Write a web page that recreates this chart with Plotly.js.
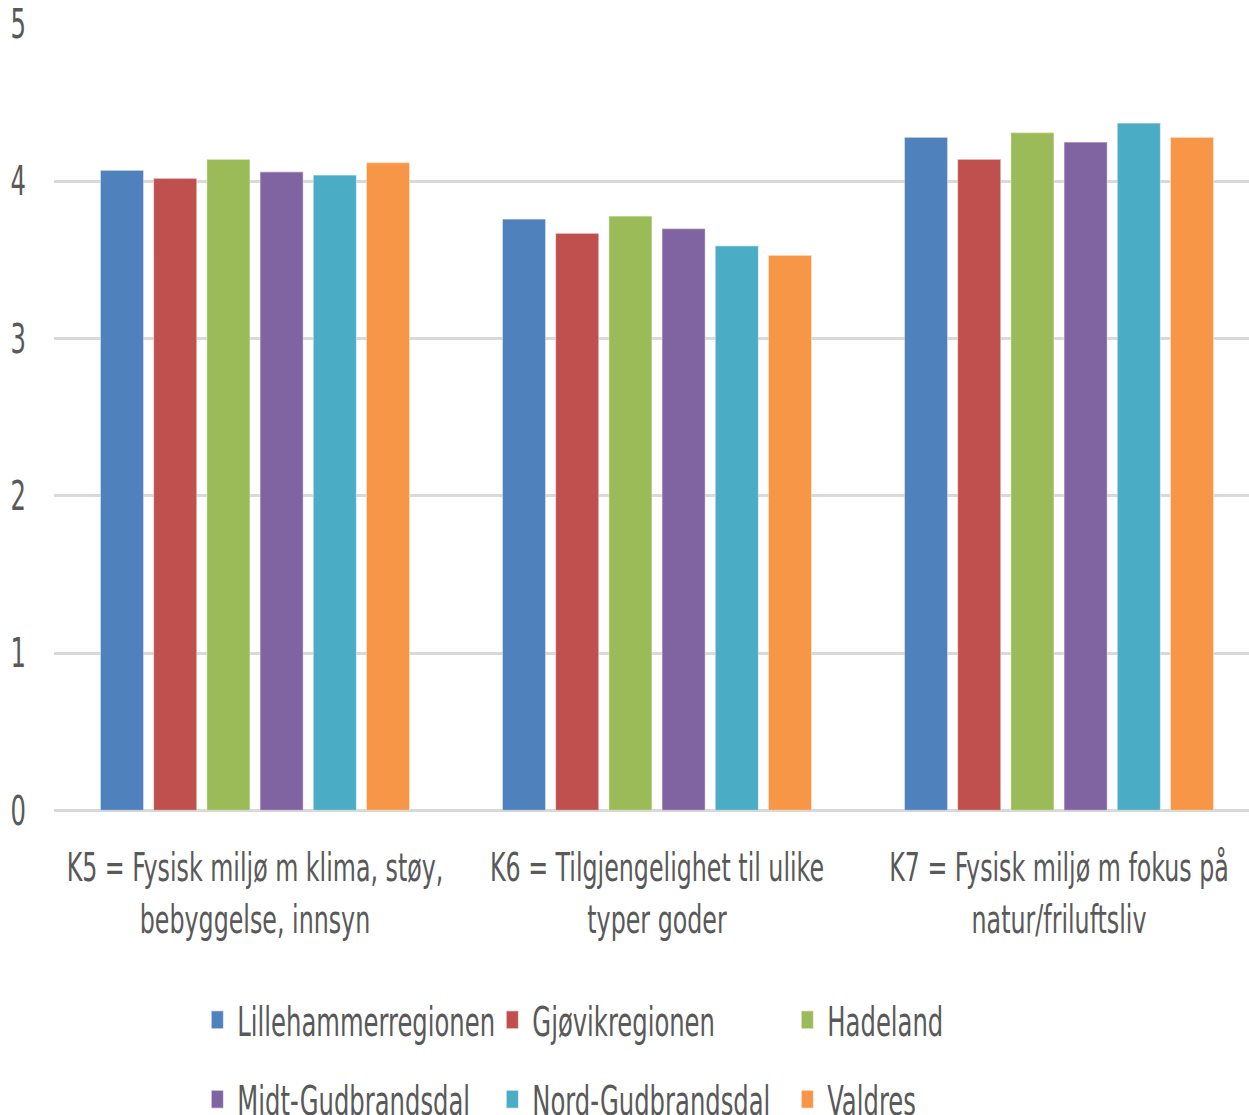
<!DOCTYPE html>
<html>
<head>
<meta charset="utf-8">
<script src="https://cdn.plot.ly/plotly-3.0.1.min.js"></script>
<style>
  html, body { margin: 0; padding: 0; background: #ffffff; width: 1249px; height: 1115px; }
  #frame { position: relative; width: 1249px; height: 1115px; overflow: hidden; }
  #chart { position: absolute; left: 0; top: 0; width: 1249px; height: 743px; transform-origin: 0 0; transform: scaleY(1.5007); }
</style>
</head>
<body>
<div id="frame"><div id="chart"></div></div>
<script>
// Category labels (x axis)
const categories = [
  'K5 = Fysisk miljø m klima, støy,<br>bebyggelse, innsyn',
  'K6 = Tilgjengelighet til ulike<br>typer goder',
  'K7 = Fysisk miljø m fokus på<br>natur/friluftsliv'
];

// Region names and average scores per category
const regions = ['Lillehammerregionen', 'Gjøvikregionen', 'Hadeland',
                 'Midt-Gudbrandsdal', 'Nord-Gudbrandsdal', 'Valdres'];
const lillehammer = [4.07, 3.76, 4.28];
const gjovik      = [4.02, 3.67, 4.14];
const hadeland    = [4.14, 3.78, 4.31];
const midtGudbr   = [4.06, 3.70, 4.25];
const nordGudbr   = [4.04, 3.59, 4.37];
const valdres     = [4.12, 3.53, 4.28];
const seriesValues = [lillehammer, gjovik, hadeland, midtGudbr, nordGudbr, valdres];

const colors = ['#4F81BD', '#C0504D', '#9BBB59', '#8064A2', '#4BACC6', '#F79646'];
const yTicks = [0, 1, 2, 3, 4, 5];

const FONT = '"Liberation Sans Narrow", "Arial Narrow", "DejaVu Sans Condensed", "Roboto Condensed", "Liberation Sans", sans-serif';
const TEXT = '#595959';

const traces = regions.map((name, i) => ({
  type: 'bar',
  name: name,
  x: [0, 1, 2],
  y: seriesValues[i],
  marker: { color: colors[i], line: { color: 'rgba(255,255,255,0.45)', width: 1 } },
  legend: i < 3 ? 'legend' : 'legend2',
  hoverinfo: 'name+y'
}));

// Two legend rows, three entries each, on a fixed column pitch
const legendBase = {
  orientation: 'h',
  xref: 'container', yref: 'container',
  x: 0.158, xanchor: 'left', yanchor: 'middle',
  entrywidth: 250, entrywidthmode: 'pixels',
  font: { family: FONT, size: 27, color: TEXT },
  bgcolor: 'rgba(0,0,0,0)',
  itemclick: false, itemdoubleclick: false
};

const layout = {
  width: 1249,
  height: 743,
  margin: { l: 54, r: 0, t: 16, b: 203 },
  paper_bgcolor: '#ffffff',
  plot_bgcolor: '#ffffff',
  font: { family: FONT, color: TEXT },
  barmode: 'group',
  bargap: 0.206,
  bargroupgap: 0.19,
  showlegend: true,
  legend: Object.assign({}, legendBase, { y: 1 - 680 / 743 }),
  legend2: Object.assign({}, legendBase, { y: 1 - 733 / 743 }),
  xaxis: {
    range: [-0.5, 2.4726],
    tickmode: 'array',
    tickvals: [0, 1, 2],
    ticktext: categories,
    showgrid: false,
    zeroline: false,
    showline: false,
    ticks: '',
    ticklabelstandoff: 20,
    tickfont: { family: FONT, size: 26.4, color: TEXT }
  },
  yaxis: {
    range: [0, 5],
    tickmode: 'array',
    tickvals: yTicks,
    ticktext: yTicks.map(String),
    showgrid: true,
    gridcolor: '#d9d9d9',
    gridwidth: 2.4,
    zeroline: true,
    zerolinecolor: '#d9d9d9',
    zerolinewidth: 2.4,
    showline: false,
    ticks: '',
    ticklabelstandoff: 27,
    tickfont: { family: FONT, size: 27, color: TEXT }
  }
};

Plotly.newPlot('chart', traces, layout, { displayModeBar: false });
</script>
</body>
</html>
